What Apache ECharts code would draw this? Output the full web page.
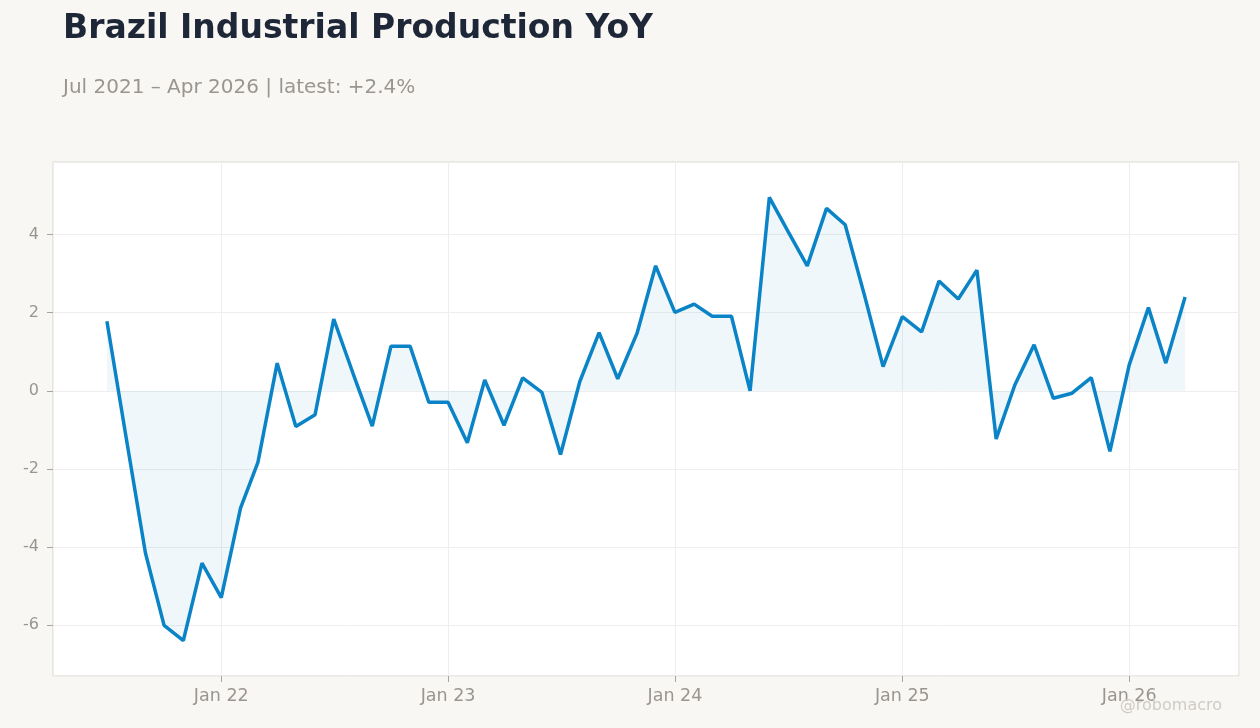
<!DOCTYPE html>
<html>
<head>
<meta charset="utf-8">
<script src="https://cdn.jsdelivr.net/npm/echarts@6/dist/echarts.min.js"></script>
<style>
html,body{margin:0;padding:0;background:#f8f7f4;}
#chart{width:1260px;height:728px;}
</style>
</head>
<body>
<div id="chart"></div>
<script>
const startYear = 2021, startMonth = 6; // Jul 2021 (0-based month)
const values = [
  1.78, -1.2, -4.15, -6.0, -6.39, -4.41,
  -5.29, -3.0, -1.83, 0.71, -0.91, -0.61, 1.84, 0.45, -0.9, 1.14, 1.14, -0.29,
  -0.29, -1.33, 0.28, -0.88, 0.33, -0.04, -1.63, 0.24, 1.49, 0.31, 1.47, 3.2,
  2.01, 2.22, 1.91, 1.91, 0.0, 4.95, 4.08, 3.2, 4.67, 4.25, 2.45, 0.62,
  1.9, 1.51, 2.81, 2.35, 3.09, -1.23, 0.15, 1.18, -0.19, -0.06, 0.34, -1.55,
  0.66, 2.13, 0.71, 2.4
];
const titleText = 'Brazil Industrial Production YoY';
const subtitleText = 'Jul 2021 – Apr 2026 | latest: +2.4%';
const watermark = '@robomacro';

const data = values.map((v, i) => [new Date(startYear, startMonth + i, 1).getTime(), v]);
const t0 = data[0][0], t1 = data[data.length - 1][0];
const pad = (t1 - t0) * 0.05;

const chart = echarts.init(document.getElementById('chart'), null, {renderer: 'canvas'});
const font = 'DejaVu Sans';
chart.setOption({
  backgroundColor: '#f8f7f4',
  animation: false,
  textStyle: {fontFamily: font},
  title: [
    {text: titleText, left: 58, top: 8, textStyle: {fontFamily: font, fontSize: 33, fontWeight: 'bold', color: '#1e2738'}},
    {text: subtitleText, left: 58, top: 73, textStyle: {fontFamily: font, fontSize: 20, fontWeight: 'normal', color: '#9a9590'}}
  ],
  graphic: [{
    type: 'text', right: 38, bottom: 14, z: 10,
    style: {text: watermark, fontFamily: font, fontSize: 16, fill: '#cfcbc6'}
  }],
  grid: {left: 53, right: 21, top: 162, bottom: 52, show: true, backgroundColor: '#ffffff', borderColor: '#d9d4cb', borderWidth: 1},
  xAxis: {
    type: 'time',
    min: t0 - pad,
    max: t1 + pad,
    axisLine: {show: false, onZero: false},
    axisTick: {show: true, length: 6, lineStyle: {color: '#a8a39d'}},
    splitLine: {show: true, lineStyle: {color: '#eeeeee'}},
    axisLabel: {
      color: '#9a9590', fontSize: 17.5, margin: 11, fontFamily: font,
      formatter: function (val) {
        const d = new Date(val);
        return 'Jan ' + String(d.getFullYear()).slice(2);
      }
    }
  },
  yAxis: {
    type: 'value',
    min: function (v) { return v.min - (v.max - v.min) * 0.08; },
    max: function (v) { return v.max + (v.max - v.min) * 0.08; },
    splitNumber: 7,
    axisLine: {show: false, onZero: false},
    axisTick: {show: true, length: 6, lineStyle: {color: '#a8a39d'}},
    splitLine: {show: true, lineStyle: {color: '#eeeeee'}},
    axisLabel: {color: '#9a9590', fontSize: 16, margin: 14, fontFamily: font, showMinLabel: false, showMaxLabel: false}
  },
  series: [{
    type: 'line',
    data: data,
    showSymbol: false,
    lineStyle: {color: '#0a84c6', width: 3.5},
    itemStyle: {color: '#0a84c6'},
    areaStyle: {color: 'rgba(10,132,198,0.09)', origin: 0}
  }]
});
</script>
</body>
</html>
